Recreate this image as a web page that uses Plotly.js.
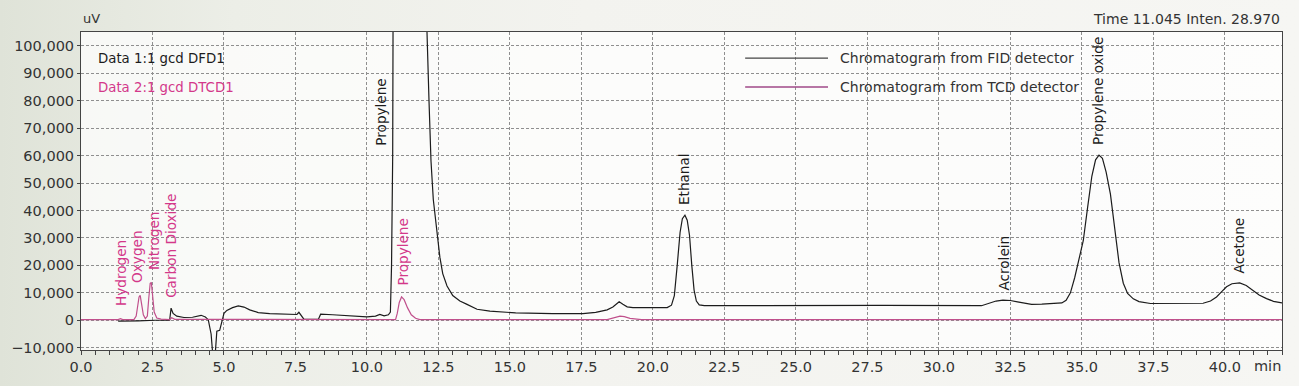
<!DOCTYPE html>
<html>
<head>
<meta charset="utf-8">
<script src="https://cdn.plot.ly/plotly-3.0.1.min.js"></script>
<style>
  html, body { margin: 0; padding: 0; }
  body { width: 1299px; height: 386px; overflow: hidden;
         background: linear-gradient(to right, #dfe3d8 0%, #eceee7 18%, #f3f3ef 45%, #f6f6f3 100%); }
  #chart { width: 1299px; height: 386px; }
</style>
</head>
<body>
<div id="chart"></div>
<script>
// ---- Data ----
// FID detector (black): retention time [min] and signal [uV]
const fidTime = [1.3, 1.9, 2.0, 2.6, 3.1, 3.15, 3.22, 3.35, 3.6, 3.9, 4.2, 4.35, 4.45, 4.55, 4.6, 4.7, 4.75, 4.85, 4.9, 5.0,
  5.1, 5.3, 5.5, 5.7, 5.9, 6.2, 6.6, 7.0, 7.55, 7.62, 7.7, 7.8, 8.3, 8.38, 8.8, 9.4, 10.0, 10.3, 10.45, 10.6,
  10.75, 10.82, 10.86, 10.9, 10.95, 12.08, 12.1, 12.17, 12.24, 12.32, 12.44, 12.55, 12.65, 12.8, 13.0, 13.25, 13.5, 13.85, 14.3, 15.2,
  16.5, 17.55, 18.0, 18.4, 18.6, 18.72, 18.82, 18.95, 19.1, 19.3, 20.5, 20.65, 20.75, 20.85, 20.95, 21.03, 21.12, 21.2, 21.28, 21.36,
  21.44, 21.52, 21.62, 21.8, 25.0, 28.0, 31.49, 31.65, 31.8, 32.0, 32.24, 32.5, 32.75, 33.0, 33.24, 33.6, 34.0, 34.3, 34.45, 34.6,
  34.75, 34.9, 35.05, 35.2, 35.35, 35.48, 35.6, 35.72, 35.85, 36.0, 36.15, 36.3, 36.45, 36.6, 36.8, 37.0, 37.4, 38.5, 39.24, 39.5,
  39.71, 39.9, 40.06, 40.25, 40.52, 40.75, 40.99, 41.2, 41.46, 41.7, 42.0];
const fidSignal = [-300, -300, -200, 0, 0, 4400, 2500, 1500, 1000, 1100, 1800, 1200, 200, -5000, -11500, -11500, -4000, -3700, -1200, 2500,
  3600, 4600, 5200, 4800, 3800, 2800, 2400, 2200, 2100, 2900, 1800, 300, 300, 2200, 2000, 1500, 1200, 1500, 2100, 1600,
  2000, 3000, 20000, 60000, 250000, 250000, 105000, 80000, 58000, 44000, 33000, 23000, 17000, 12500, 9000, 7000, 5800, 4000, 3300, 2700,
  2400, 2400, 2900, 3800, 4800, 6000, 6700, 5800, 4900, 4600, 4600, 5500, 9000, 20000, 32000, 37000, 38300, 36500, 31000, 20000,
  11000, 7000, 5600, 5300, 5400, 5400, 5300, 5800, 6500, 7000, 7300, 7200, 6700, 6100, 5800, 5900, 6100, 6300, 7300, 10000,
  15500, 22000, 29000, 41000, 52500, 58500, 60200, 59000, 54000, 46000, 34000, 21000, 13500, 9800, 7800, 6800, 6100, 6000, 6200, 7000,
  8500, 10500, 12200, 13300, 13600, 12700, 10900, 9200, 7900, 6900, 6300];

// TCD detector (pink): retention time [min] and signal [uV]
const tcdTime = [0, 1.3, 1.38, 1.46, 1.85, 1.93, 1.98, 2.03, 2.07, 2.12, 2.18, 2.25, 2.32, 2.37, 2.42, 2.46, 2.5, 2.56, 2.65, 2.8,
  3.1, 3.17, 3.28, 4.5, 7.7, 11.0, 11.06, 11.13, 11.21, 11.3, 11.42, 11.55, 11.7, 11.85, 18.4, 18.7, 18.85, 19.0, 19.2, 19.6, 42.0];
const tcdSignal = [250, 250, 600, 250, 250, 1500, 5000, 8500, 9100, 6000, 2000, 600, 1500, 8000, 13500, 13800, 9000, 3000, 800, 400,
  250, 900, 350, 300, 200, 250, 2500, 6500, 8500, 7500, 4500, 2000, 700, 250, 250, 900, 1500, 1300, 700, 250, 250];

// Peak identification labels
const fidPeakNames = ["Propylene", "Ethanal", "Acrolein", "Propylene oxide", "Acetone"];
const fidPeakTimes = [10.49, 21.08, 32.27, 35.56, 40.5];
const tcdPeakNames = ["Hydrogen", "Oxygen", "Nitrogen", "Carbon Dioxide", "Propylene"];
const tcdPeakTimes = [1.39, 1.95, 2.53, 3.17, 11.25];

const seriesNames = ["Chromatogram from FID detector", "Chromatogram from TCD detector"];
const dataNames = ["Data 1:1 gcd DFD1", "Data 2:1 gcd DTCD1"];

// ---- Styling / label placement ----
const FONT = "DejaVu Sans, Noto Sans, sans-serif";
const BLACK = "#1c1c1c";
const PINK_LINE = "#c0508c";
const PINK_TEXT = "#d3388a";
const fidLabelY = [63100, 41200, 10200, 63100, 16400];
const tcdLabelY = [4400, 12800, 17500, 7300, 12000];

const traces = [
  { x: fidTime, y: fidSignal, type: "scatter", mode: "lines", name: seriesNames[0],
    line: { color: BLACK, width: 1.2 }, showlegend: false },
  { x: tcdTime, y: tcdSignal, type: "scatter", mode: "lines", name: seriesNames[1],
    line: { color: PINK_LINE, width: 1.2 }, showlegend: false }
];

const annotations = [];
fidPeakNames.forEach((n, i) => annotations.push({
  x: fidPeakTimes[i], y: fidLabelY[i], xref: "x", yref: "y", text: n, showarrow: false,
  textangle: -90, xanchor: "center", yanchor: "bottom", font: { family: FONT, size: 13.6, color: BLACK }
}));
tcdPeakNames.forEach((n, i) => annotations.push({
  x: tcdPeakTimes[i], y: tcdLabelY[i], xref: "x", yref: "y", text: n, showarrow: false,
  textangle: -90, xanchor: "center", yanchor: "bottom", font: { family: FONT, size: 13.6, color: PINK_TEXT }
}));
// data file names (top-left)
annotations.push({ xref: "paper", yref: "paper", x: 0.0129, y: 0.918, text: dataNames[0], showarrow: false,
  xanchor: "left", yanchor: "middle", font: { family: FONT, size: 13.3, color: BLACK } });
annotations.push({ xref: "paper", yref: "paper", x: 0.0129, y: 0.827, text: dataNames[1], showarrow: false,
  xanchor: "left", yanchor: "middle", font: { family: FONT, size: 13.3, color: PINK_TEXT } });
// legend texts
annotations.push({ xref: "paper", yref: "paper", x: 0.6303, y: 0.918, text: seriesNames[0], showarrow: false,
  xanchor: "left", yanchor: "middle", font: { family: FONT, size: 14, color: "#333" } });
annotations.push({ xref: "paper", yref: "paper", x: 0.6303, y: 0.827, text: seriesNames[1], showarrow: false,
  xanchor: "left", yanchor: "middle", font: { family: FONT, size: 14, color: "#333" } });
// unit / status labels
annotations.push({ xref: "paper", yref: "paper", x: 0, y: 1.041, text: "uV", showarrow: false,
  xanchor: "left", yanchor: "middle", font: { family: FONT, size: 13, color: "#333" } });
annotations.push({ xref: "paper", yref: "paper", x: 1, y: 1.041, text: "Time 11.045 Inten. 28.970", showarrow: false,
  xanchor: "right", yanchor: "middle", font: { family: FONT, size: 14, color: "#333" } });
annotations.push({ xref: "paper", yref: "paper", x: 1.001, y: -0.05, text: "min", showarrow: false,
  xanchor: "right", yanchor: "middle", font: { family: FONT, size: 14.5, color: "#333" } });

// legend line samples
const shapes = [
  { type: "line", xref: "paper", yref: "paper", x0: 0.553, x1: 0.622, y0: 0.918, y1: 0.918,
    line: { color: "#444", width: 1.4 } },
  { type: "line", xref: "paper", yref: "paper", x0: 0.553, x1: 0.622, y0: 0.827, y1: 0.827,
    line: { color: "#a04a88", width: 1.4 } }
];

const layout = {
  width: 1299, height: 386,
  margin: { l: 81, r: 17, t: 32, b: 36, pad: 0 },
  paper_bgcolor: "rgba(0,0,0,0)",
  plot_bgcolor: "rgba(255,255,255,0.72)",
  showlegend: false,
  font: { family: FONT, size: 14.5, color: "#333" },
  xaxis: {
    range: [0, 42], dtick: 2.5, tick0: 0, tickformat: ".1f",
    showline: true, linecolor: "#444", linewidth: 1, mirror: true,
    ticks: "outside", ticklen: 4, tickcolor: "#444",
    minor: { dtick: 0.5, ticks: "outside", ticklen: 4, tickcolor: "#444", showgrid: false },
    showgrid: true, gridcolor: "#8f8f8f", griddash: "3px,2px", gridwidth: 1,
    zeroline: false, tickfont: { family: FONT, size: 14.5, color: "#333" }
  },
  yaxis: {
    range: [-10850, 105100], dtick: 10000, tick0: 0, tickformat: ",d",
    showline: true, linecolor: "#444", linewidth: 1, mirror: true,
    ticks: "outside", ticklen: 3, tickcolor: "#444",
    showgrid: true, gridcolor: "#8f8f8f", griddash: "3px,2px", gridwidth: 1,
    zeroline: false, tickfont: { family: FONT, size: 14.5, color: "#333" }
  },
  annotations: annotations,
  shapes: shapes
};

Plotly.newPlot("chart", traces, layout, { staticPlot: true, displayModeBar: false });
</script>
</body>
</html>
